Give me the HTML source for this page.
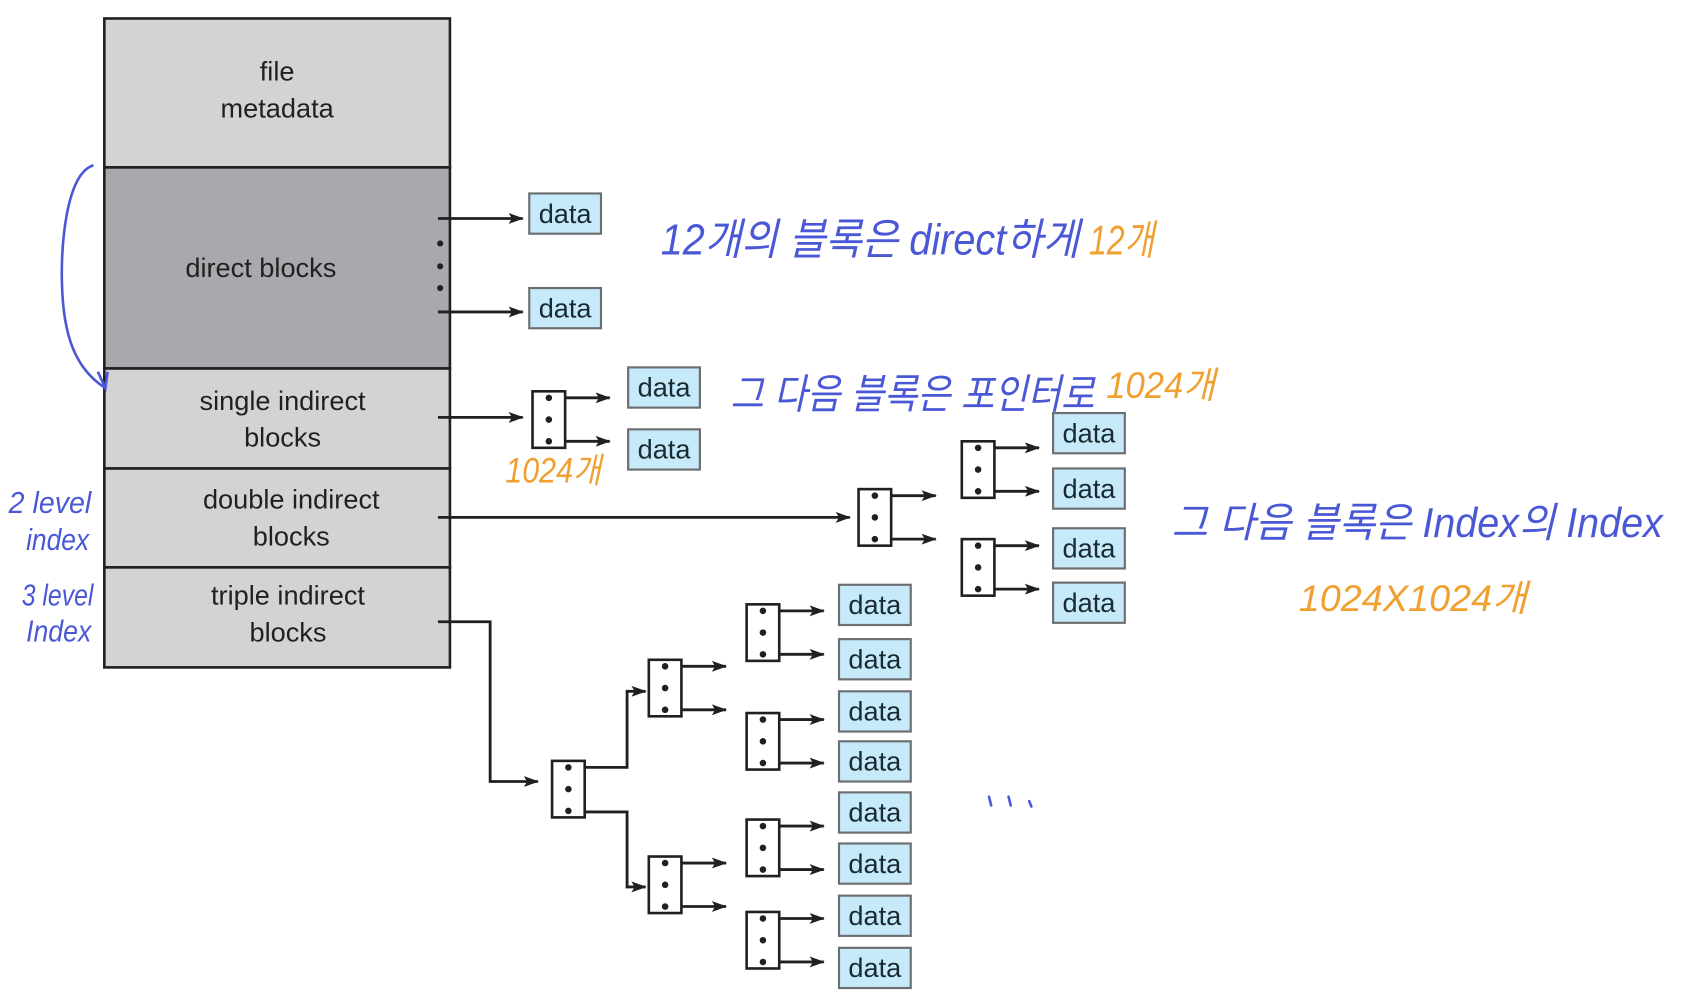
<!DOCTYPE html>
<html><head><meta charset="utf-8"><style>
html,body{margin:0;padding:0;background:#fff;width:1703px;height:1000px;overflow:hidden}
svg{display:block}
.t{font-family:"Liberation Sans",sans-serif;font-size:25px;fill:#231f20;text-anchor:middle}
.d{font-family:"Liberation Sans",sans-serif;font-size:25px;fill:#1a2a33;text-anchor:middle}
.hb{font-family:"Liberation Sans","Noto Sans CJK KR",sans-serif;fill:#4a58d6;font-style:italic}
.ho{font-family:"Liberation Sans","Noto Sans CJK KR",sans-serif;fill:#f0a030;font-style:italic}
</style></head><body>
<svg width="1703" height="1000" viewBox="0 0 1567 920" preserveAspectRatio="none" xmlns="http://www.w3.org/2000/svg">
<defs>
<marker id="a" markerWidth="14" markerHeight="10" refX="13" refY="5" orient="auto" markerUnits="userSpaceOnUse">
<path d="M0,0 L14,5 L0,10 L3,5 z" fill="#231f20"/></marker>
<g id="ix">
<rect x="0" y="0" width="30" height="52" fill="#fff" stroke="#231f20" stroke-width="2.4"/>
<circle cx="15" cy="6" r="3" fill="#231f20"/><circle cx="15" cy="26" r="3" fill="#231f20"/><circle cx="15" cy="46" r="3" fill="#231f20"/>
</g>
<g id="dt"><rect x="0" y="0" width="66" height="37" fill="#c7eafa" stroke="#6d6e71" stroke-width="2"/><text x="33" y="27" class="d">data</text></g>
</defs>
<g stroke="#231f20" stroke-width="2.4">
<rect x="96" y="17" width="318" height="137" fill="#d1d3d4"/>
<rect x="96" y="154" width="318" height="185" fill="#a7a9ac"/>
<rect x="96" y="339" width="318" height="92" fill="#d1d3d4"/>
<rect x="96" y="431" width="318" height="91" fill="#d1d3d4"/>
<rect x="96" y="522" width="318" height="92" fill="#d1d3d4"/>
</g>
<text x="255" y="74" class="t">file</text><text x="255" y="108" class="t">metadata</text>
<text x="240" y="255" class="t">direct blocks</text>
<text x="260" y="377" class="t">single indirect</text><text x="260" y="411" class="t">blocks</text>
<text x="268" y="468" class="t">double indirect</text><text x="268" y="502" class="t">blocks</text>
<text x="265" y="556" class="t">triple indirect</text><text x="265" y="590" class="t">blocks</text>
<g fill="#231f20"><circle cx="405" cy="224" r="2.8"/><circle cx="405" cy="245" r="2.8"/><circle cx="405" cy="265" r="2.8"/></g>
<g stroke="#231f20" stroke-width="2.6" fill="none" marker-end="url(#a)">
<line x1="403" y1="201" x2="481" y2="201"/>
<line x1="403" y1="287" x2="481" y2="287"/>
<line x1="403" y1="384" x2="481" y2="384"/>
<line x1="403" y1="476" x2="782" y2="476"/>
<polyline points="403,572 451,572 451,719 495,719"/>
<polyline points="523,706 577,706 577,636 594,636"/>
<polyline points="523,747 577,747 577,816 594,816"/>
<line x1="510" y1="366" x2="561" y2="366"/><line x1="510" y1="406" x2="561" y2="406"/>
<line x1="810" y1="456" x2="861" y2="456"/><line x1="810" y1="496" x2="861" y2="496"/>
<line x1="905" y1="412" x2="956" y2="412"/><line x1="905" y1="452" x2="956" y2="452"/>
<line x1="905" y1="502" x2="956" y2="502"/><line x1="905" y1="542" x2="956" y2="542"/>
<line x1="617" y1="613" x2="668" y2="613"/><line x1="617" y1="653" x2="668" y2="653"/>
<line x1="617" y1="794" x2="668" y2="794"/><line x1="617" y1="834" x2="668" y2="834"/>
<line x1="707" y1="562" x2="758" y2="562"/><line x1="707" y1="602" x2="758" y2="602"/>
<line x1="707" y1="662" x2="758" y2="662"/><line x1="707" y1="702" x2="758" y2="702"/>
<line x1="707" y1="760" x2="758" y2="760"/><line x1="707" y1="800" x2="758" y2="800"/>
<line x1="707" y1="845" x2="758" y2="845"/><line x1="707" y1="885" x2="758" y2="885"/>
</g>
<use href="#ix" x="490" y="360"/>
<use href="#ix" x="790" y="450"/>
<use href="#ix" x="885" y="406"/><use href="#ix" x="885" y="496"/>
<use href="#ix" x="508" y="700"/>
<use href="#ix" x="597" y="607"/><use href="#ix" x="597" y="788"/>
<use href="#ix" x="687" y="556"/><use href="#ix" x="687" y="656"/>
<use href="#ix" x="687" y="754"/><use href="#ix" x="687" y="839"/>
<use href="#dt" x="487" y="178"/><use href="#dt" x="487" y="265"/>
<use href="#dt" x="578" y="338"/><use href="#dt" x="578" y="395"/>
<use href="#dt" x="969" y="380"/><use href="#dt" x="969" y="431"/>
<use href="#dt" x="969" y="486"/><use href="#dt" x="969" y="536"/>
<use href="#dt" x="772" y="538"/><use href="#dt" x="772" y="588"/>
<use href="#dt" x="772" y="636"/><use href="#dt" x="772" y="682"/>
<use href="#dt" x="772" y="729"/><use href="#dt" x="772" y="776"/>
<use href="#dt" x="772" y="824"/><use href="#dt" x="772" y="872"/>
<path d="M86,152 C60,160 56,230 57,260 C58,310 70,340 97,357 M90,342 L97,357 L99,342" fill="none" stroke="#4a58d6" stroke-width="2.4"/>
<text x="608" y="234" class="hb" font-size="40" textLength="385" lengthAdjust="spacingAndGlyphs">12개의 블록은 direct하게</text>
<text x="1002" y="234" class="ho" font-size="38" textLength="60" lengthAdjust="spacingAndGlyphs">12개</text>
<text x="672" y="376" class="hb" font-size="38" textLength="335" lengthAdjust="spacingAndGlyphs">그 다음 블록은 포인터로</text>
<text x="1018" y="366" class="ho" font-size="34" textLength="100" lengthAdjust="spacingAndGlyphs">1024개</text>
<text x="465" y="444" class="ho" font-size="32" textLength="88" lengthAdjust="spacingAndGlyphs">1024개</text>
<text x="1078" y="494" class="hb" font-size="38" textLength="452" lengthAdjust="spacingAndGlyphs">그  다음 블록은  Index의 Index</text>
<text x="1195" y="562" class="ho" font-size="34" textLength="210" lengthAdjust="spacingAndGlyphs">1024X1024개</text>
<text x="8" y="472" class="hb" font-size="28" textLength="76" lengthAdjust="spacingAndGlyphs">2 level</text>
<text x="24" y="506" class="hb" font-size="28" textLength="58" lengthAdjust="spacingAndGlyphs">index</text>
<text x="20" y="557" class="hb" font-size="28" textLength="66" lengthAdjust="spacingAndGlyphs">3 level</text>
<text x="24" y="590" class="hb" font-size="28" textLength="60" lengthAdjust="spacingAndGlyphs">Index</text>
<g stroke="#4a58d6" stroke-width="2.4" stroke-linecap="round">
<line x1="910" y1="733" x2="912" y2="741"/><line x1="928" y1="733" x2="930" y2="741"/><line x1="947" y1="737" x2="949" y2="742"/>
</g>
</svg>
</body></html>
